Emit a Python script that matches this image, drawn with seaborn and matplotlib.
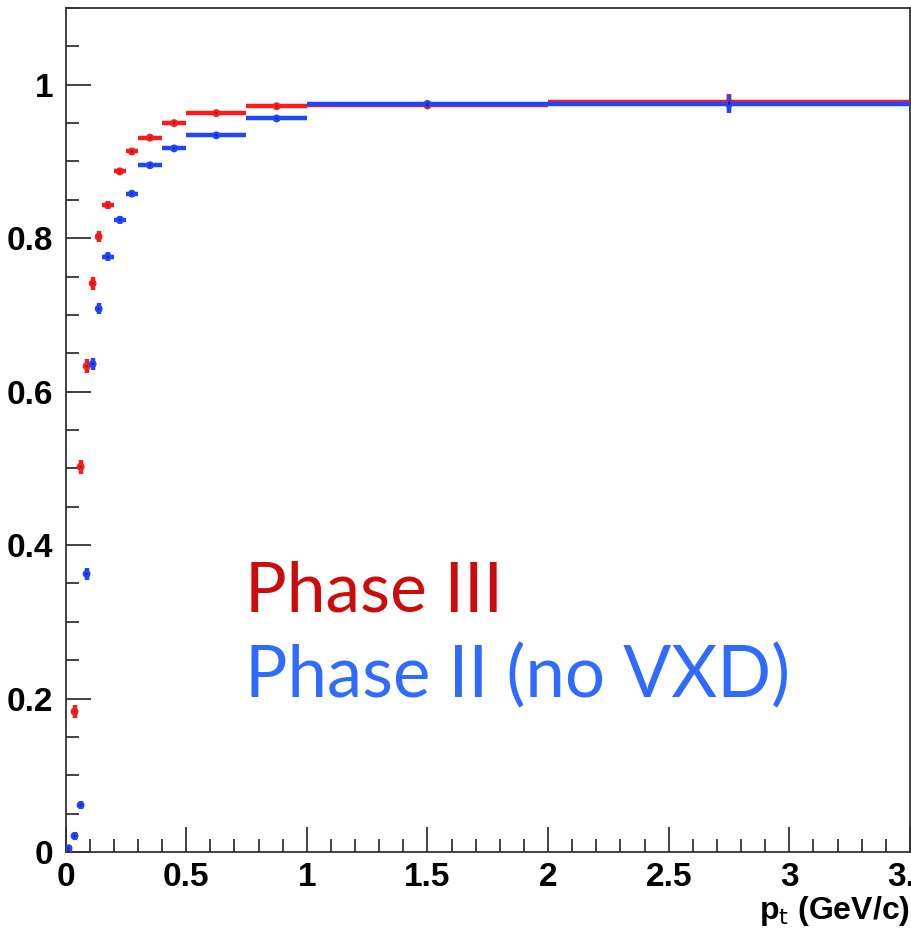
import numpy as np
import pandas as pd
import matplotlib
matplotlib.use("Agg")
import matplotlib.pyplot as plt
from matplotlib.ticker import MultipleLocator
import seaborn as sns

# ---- data ----
bin_edges = [0, 0.025, 0.05, 0.075, 0.1, 0.125, 0.15, 0.2, 0.25, 0.3, 0.4, 0.5, 0.75, 1.0, 2.0, 3.5]
phase3_eff = [0.001, 0.183, 0.502, 0.633, 0.741, 0.802, 0.843, 0.887, 0.913, 0.931, 0.950, 0.963, 0.972, 0.973, 0.977]
phase3_err = [0.002, 0.009, 0.009, 0.009, 0.008, 0.007, 0.005, 0.005, 0.005, 0.004, 0.003, 0.003, 0.002, 0.002, 0.011]
phase2_eff = [0.005, 0.021, 0.061, 0.3625, 0.636, 0.708, 0.776, 0.824, 0.858, 0.895, 0.917, 0.934, 0.956, 0.975, 0.975]
phase2_err = [0.003, 0.005, 0.005, 0.008, 0.008, 0.007, 0.006, 0.005, 0.004, 0.003, 0.003, 0.002, 0.002, 0.002, 0.012]
x_ticks = [0, 0.5, 1, 1.5, 2, 2.5, 3, 3.5]
x_tick_labels = ["0", "0.5", "1", "1.5", "2", "2.5", "3", "3.5"]
y_ticks = [0, 0.2, 0.4, 0.6, 0.8, 1.0]
y_tick_labels = ["0", "0.2", "0.4", "0.6", "0.8", "1"]
labels = ["Phase III", "Phase II (no VXD)"]

edges = np.array(bin_edges)
centers = 0.5 * (edges[1:] + edges[:-1])
halfw = 0.5 * (edges[1:] - edges[:-1])

df = pd.DataFrame({
    "pt": np.concatenate([centers, centers]),
    "eff": np.concatenate([phase3_eff, phase2_eff]),
    "err": np.concatenate([phase3_err, phase2_err]),
    "xerr": np.concatenate([halfw, halfw]),
    "phase": [labels[0]] * len(centers) + [labels[1]] * len(centers),
})

sns.set_style("white")
plt.rcParams["font.family"] = ["Liberation Sans", "DejaVu Sans"]

fig = plt.figure(figsize=(9.12, 9.33), dpi=100)
ax = fig.add_axes([65.5 / 912, 1 - 852 / 933, (910 - 65.5) / 912, (852 - 8) / 933])

mark_colors = {labels[0]: "#ff1a1a", labels[1]: "#1f45ff"}
text_colors = {labels[0]: "#cc0b0b", labels[1]: "#2f6bff"}

for ph in labels:
    sub = df[df["phase"] == ph]
    ax.errorbar(sub["pt"], sub["eff"], xerr=sub["xerr"], yerr=sub["err"],
                fmt="none", ecolor=mark_colors[ph], elinewidth=3.2, capsize=0, zorder=3)
    sns.scatterplot(data=sub, x="pt", y="eff", color=mark_colors[ph], s=32,
                    marker="o", edgecolor="none", ax=ax, zorder=4, legend=False)
    sns.scatterplot(data=sub, x="pt", y="eff", color="#202020", s=2,
                    marker="o", edgecolor="none", ax=ax, zorder=5, legend=False)

ax.set_xlim(0, 3.5)
ax.set_ylim(0, 1.1)
ax.set_xticks(x_ticks)
ax.set_xticklabels(x_tick_labels)
ax.set_yticks(y_ticks)
ax.set_yticklabels(y_tick_labels)
ax.xaxis.set_minor_locator(MultipleLocator(0.1))
ax.yaxis.set_minor_locator(MultipleLocator(0.05))
ax.tick_params(axis="both", which="both", bottom=True, left=True, top=False, right=False)
ax.tick_params(axis="both", which="major", direction="in", length=18, width=1.3,
               color="#333333", labelsize=24, pad=7, labelcolor="black")
ax.tick_params(axis="both", which="minor", direction="in", length=9.5, width=1.3,
               color="#333333")
ax.tick_params(axis="y", which="major", pad=9)
for lab in ax.get_xticklabels() + ax.get_yticklabels():
    lab.set_fontweight("bold")
for sp in ax.spines.values():
    sp.set_color("#333333")
    sp.set_linewidth(1.3)

ax.set_xlabel("")
ax.set_ylabel("")
fig.text(910 / 912, 1 - 919 / 933, r"p$_{\rm t}$ (GeV/c)", ha="right", va="baseline",
         fontsize=23, fontweight="bold", color="black")

ax.text(0.746, 0.313, labels[0], color=text_colors[labels[0]], fontsize=50,
        family=["Lato", "DejaVu Sans"], ha="left", va="baseline")
ax.text(0.746, 0.202, labels[1], color=text_colors[labels[1]], fontsize=51,
        family=["Lato", "DejaVu Sans"], ha="left", va="baseline")

fig.savefig("out.png", dpi=100)
